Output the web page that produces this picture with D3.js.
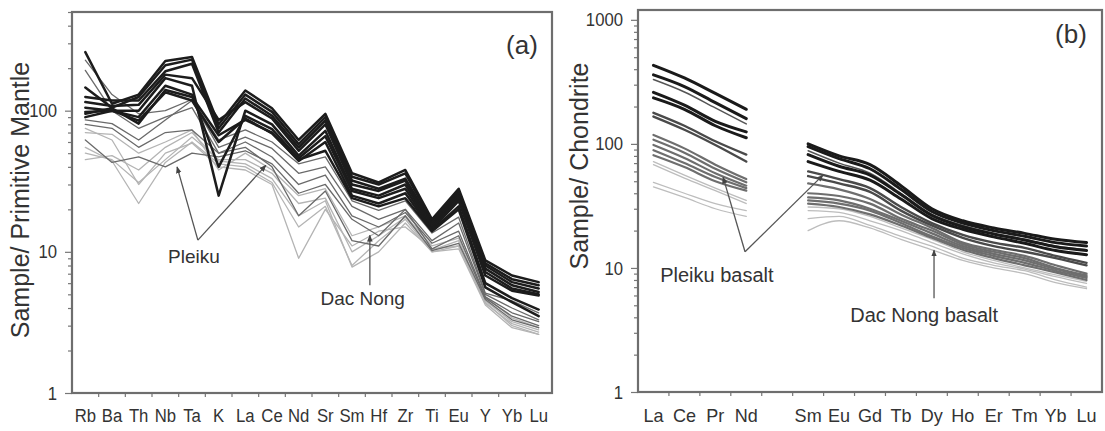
<!DOCTYPE html>
<html><head><meta charset="utf-8">
<script src="https://cdn.jsdelivr.net/npm/d3@7"></script>
<style>
body{margin:0;background:#fff}
text{font-family:Arial,"Liberation Sans",Helvetica,sans-serif}
</style>
</head><body>
<svg id="chart" width="1105" height="431"></svg>
<script>
// ---------- DATA ----------
const categoriesA = ["Rb","Ba","Th","Nb","Ta","K","La","Ce","Nd","Sr","Sm","Hf","Zr","Ti","Eu","Y","Yb","Lu"];
const categoriesB = ["La","Ce","Pr","Nd","Pm","Sm","Eu","Gd","Tb","Dy","Ho","Er","Tm","Yb","Lu"];
const yTickLabelsA = [1, 10, 100];
const yTickLabelsB = [1, 10, 100, 1000];

// Panel (a) spider diagram, primitive-mantle normalised
const a1 = [260,112,130,225,240,80,139,104,62,95,36,31,38,17,28,8.7,6.8,6.1];
const a2 = [146,105,125,210,230,75,130,98,58,90,34,30,36,16.5,27,8.3,6.4,5.8];
const a3 = [125,118,118,190,215,70,122,92,55,85,32,28,33,16,26,8.0,6.1,5.5];
const a4 = [115,108,110,180,170,86,115,88,52,80,30,27,32,15.5,25,7.6,5.8,5.2];
const a5 = [105,100,100,170,150,25,100,80,48,72,28,25,30,15,24,7.2,5.5,5.0];
const a6 = [98,100,90,150,130,40,92,74,46,66,27,24,28,14.5,23,6.8,5.3,4.9];
const a7 = [95,104,81,140,125,67,86,70,44,60,25,22,26,14.2,21,6.0,4.7,3.9];
const a8 = [90,100,85,135,118,60,88,69,45,52,24,21,24,14,20,5.6,4.4,3.5];
const b1 = [228,130,95,100,120,62,73,60,42,47,23,19.7,23,13.6,17.6,5.1,4.5,3.7];
const b2 = [86,81,62,86,118,55,65,54,36,40,21,17,20,12,16,5.0,4.0,3.3];
const b3 = [193,100,75,90,105,50,60,47,30,35,18,15,19,11.5,14,4.8,3.7,3.2];
const b4 = [62,43,47,40,50,47,52,42,26,30,17,13,20,10.5,13,4.7,3.5,3.0];
const b5 = [80,75,55,70,73,50,55,40,18,27,12,11,18,10.2,11.5,4.6,3.3,2.9];
const c1 = [50,45,31,45,65,45,45,36,22,24,10,13,17.6,10.3,12,4.5,3.2,2.8];
const c2 = [55,44,22,43,60,42,40,31,15,21,8,12,17,10,11,4.3,3.1,2.7];
const c3 = [75,62,30,50,59,40,38,30,9,20,11,14,15,10.5,11,4.4,3.0,2.6];
const c4 = [70,68,50,60,73,38,50,38,25,28,13,15,18,11,12.5,4.8,3.4,2.9];
const c5 = [45,48,38,55,70,44,42,33,18,23,7.8,10,16,10,10.5,4.2,2.9,2.6];
const darkA = [a1,a2,a3,a4,a5,a6,a7,a8];
const midA = [b1,b2,b3,b4,b5];
const lightA = [c1,c2,c3,c4,c5];

// Panel (b) REE, chondrite normalised (Pm = no data)
const r1 = [430,340,255,190,null,100,80,68,46,30,24,21,19,17,16];
const r2 = [360,290,215,160,null,95,76,63,43,28.5,23,20,18,16,15];
const r4 = [260,205,152,125,null,82,66,56,39,26.5,21.5,18.8,16.8,14.8,13.8];
const r5 = [235,190,140,112,null,72,60,51,36,25,20.5,17.8,15.8,13.8,12.8];
const r3 = [330,262,195,145,null,88,70,58,40,27,22,19,17,15,14];
const r6 = [178,140,105,82,null,60,52,44,31,23,18.5,16,14.5,12.5,11];
const r7 = [166,130,98,72,null,55,48,41,29,22,17.5,15,13.5,12,10.5];
const r8 = [118,92,68,52,null,48,43,36,27,21,16,14,12.5,10.5,9];
const r9 = [108,85,63,49,null,40,38,33,25,20,15.5,13.5,12,10,8.7];
const r10 = [98,77,58,46,null,37,35,30,24,19,15,13,11.5,9.8,8.5];
const r11 = [89,70,54,44,null,35,33,29,23,18,14.5,12.5,11,9.5,8.3];
const r12 = [81,65,50,42,null,33,31,27,22,17.5,14,12,10.5,9.2,8];
const r13 = [72,56,44,35,null,31,30,26,21,17,13.5,11.5,10,8.8,7.8];
const r14 = [68,53,42,33,null,29,28,24,20,16,13,11,9.8,8.5,7.5];
const r15 = [49,40,33,29,null,25,26,22,18,15,12,10.5,9.5,8,7];
const r16 = [45,37,30,26,null,20,24,21,17,14,11.5,10,9,7.6,6.8];
const darkB = [r1,r2,r4,r5];
const thinDarkB = [r3];
const midDarkB = [r6,r7];
const midB = [r8,r9,r10,r11,r12];
const lightB = [r13,r14,r15,r16];

// annotations: [category index, value]
const arrowsA = [
  {from:[4.22,12.1], to:[3.44,40]},
  {from:[4.22,12.1], to:[6.77,41]},
  {from:[10.67,5.8], to:[10.67,13.1]}
];
const labelsA = [{text:"Pleiku", at:[4.07,8.3]},{text:"Dac Nong", at:[10.4,4.2]}];
const arrowsB = [
  {from:[2.96,13.5], to:[2.25,54]},
  {from:[2.96,13.5], to:[5.48,56]},
  {from:[9.07,5.7], to:[9.07,13.9]}
];
const labelsB = [{text:"Pleiku basalt", at:[2.05,7.7]},{text:"Dac Nong basalt", at:[8.75,3.67]}];

// ---------- DRAW ----------
const svg = d3.select("#chart");
const defs = svg.append("defs");
defs.append("marker").attr("id","arr").attr("viewBox","0 0 10 10")
  .attr("refX",9).attr("refY",5).attr("markerWidth",7).attr("markerHeight",7)
  .attr("orient","auto-start-reverse").attr("markerUnits","userSpaceOnUse")
  .append("path").attr("d","M0,1 L10,5 L0,9 Z").attr("fill","#444");

function panel(o){
  const g = svg.append("g");
  const x = d3.scaleBand().domain(o.cats).range([o.left,o.right]).padding(0);
  const bw = x.bandwidth();
  const y = d3.scaleLog().domain([1,o.yMax]).range([o.bottom,o.top]);
  const xi = i => o.left + bw*(i+0.5);

  // y axis with log ticks
  const yAxis = d3.axisLeft(y).tickValues(y.ticks()).tickSize(4).tickPadding(11)
    .tickFormat(d => o.yLabels.includes(d) ? String(d) : "");
  const ya = g.append("g").attr("transform",`translate(${o.left},0)`).call(yAxis);
  ya.select(".domain").remove();
  ya.selectAll(".tick line").attr("stroke","#777").attr("stroke-width",1.2)
    .attr("x2", d => o.yLabels.includes(d) ? -7 : -4);
  ya.selectAll(".tick text").attr("fill","#333").style("font-size","19px")
    .attr("x",0).attr("transform","translate(-15,0) scale(0.88,1)");

  // x axis labels
  const xAxis = d3.axisBottom(x).tickSize(0).tickPadding(o.xPad)
    .tickFormat(d => o.hidden.includes(d) ? "" : d);
  const xa = g.append("g").attr("transform",`translate(0,${o.bottom})`).call(xAxis);
  xa.select(".domain").remove();
  xa.selectAll(".tick text").attr("fill","#333").style("font-size",o.xFont+"px")
    .attr("transform",`scale(${o.xScale},1)`);
  // boundary ticks
  g.append("g").selectAll("line").data(o.cats.slice(1)).join("line")
    .attr("x1",d=>x(d)).attr("x2",d=>x(d))
    .attr("y1",o.bottom).attr("y2",o.bottom+4)
    .attr("stroke","#777").attr("stroke-width",1.2);

  // lines
  const line = d3.line().defined(d => d != null)
    .x((d,i) => x(o.cats[i]) + bw/2).y(d => y(d));
  if (o.curve) line.curve(o.curve);
  o.groups.forEach(gr => {
    g.append("g").selectAll("path").data(gr.data).join("path")
      .attr("d", line).attr("fill","none")
      .attr("stroke", gr.color).attr("stroke-width", gr.width)
      .attr("stroke-linejoin","round").attr("stroke-linecap","round");
  });

  // frame
  g.append("rect").attr("x",o.left).attr("y",o.top)
    .attr("width",o.right-o.left).attr("height",o.bottom-o.top)
    .attr("fill","none").attr("stroke","#6e6e6e").attr("stroke-width",2.2);

  // arrows + labels
  g.append("g").selectAll("line").data(o.arrows).join("line")
    .attr("x1",d=>xi(d.from[0])).attr("y1",d=>y(d.from[1]))
    .attr("x2",d=>xi(d.to[0])).attr("y2",d=>y(d.to[1]))
    .attr("stroke","#555").attr("stroke-width",1.3).attr("marker-end","url(#arr)");
  g.append("g").selectAll("text").data(o.labels).join("text")
    .attr("x",d=>xi(d.at[0])).attr("y",d=>y(d.at[1]))
    .attr("text-anchor","middle").attr("fill","#333")
    .style("font-size",o.annFont+"px").text(d=>d.text);

  // titles
  g.append("text").attr("transform",`translate(${o.titleX},${o.titleY}) rotate(-90)`)
    .attr("text-anchor","middle").attr("fill","#333").style("font-size","25px")
    .text(o.yTitle);
  g.append("text").attr("x",o.tagX).attr("y",o.tagY).attr("text-anchor","middle")
    .attr("fill","#333").style("font-size","26px").text(o.tag);
}

panel({
  cats:categoriesA, hidden:[], left:72, right:552, top:12, bottom:393, yMax:500,
  yLabels:yTickLabelsA, xPad:16, xFont:19, xScale:0.88, annFont:19,
  groups:[
    {data:lightA, color:"#b4b4b4", width:1.3},
    {data:midA, color:"#6a6a6a", width:1.3},
    {data:darkA, color:"#1c1c1c", width:2.5}
  ],
  arrows:arrowsA, labels:labelsA,
  yTitle:"Sample/ Primitive Mantle", titleX:29, titleY:200,
  tag:"(a)", tagX:522, tagY:54
});

panel({
  cats:categoriesB, hidden:["Pm"], left:638, right:1102, top:10, bottom:392, yMax:1200,
  yLabels:yTickLabelsB, xPad:17, xFont:19, xScale:0.95, annFont:20, curve:d3.curveMonotoneX,
  groups:[
    {data:lightB, color:"#bdbdbd", width:1.3},
    {data:midB, color:"#6e6e6e", width:2.2},
    {data:midDarkB, color:"#4a4a4a", width:2.4},
    {data:thinDarkB, color:"#555", width:1.5},
    {data:darkB, color:"#1a1a1a", width:3}
  ],
  arrows:arrowsB, labels:labelsB,
  yTitle:"Sample/ Chondrite", titleX:588, titleY:166,
  tag:"(b)", tagX:1071, tagY:43
});
</script>
</body></html>
